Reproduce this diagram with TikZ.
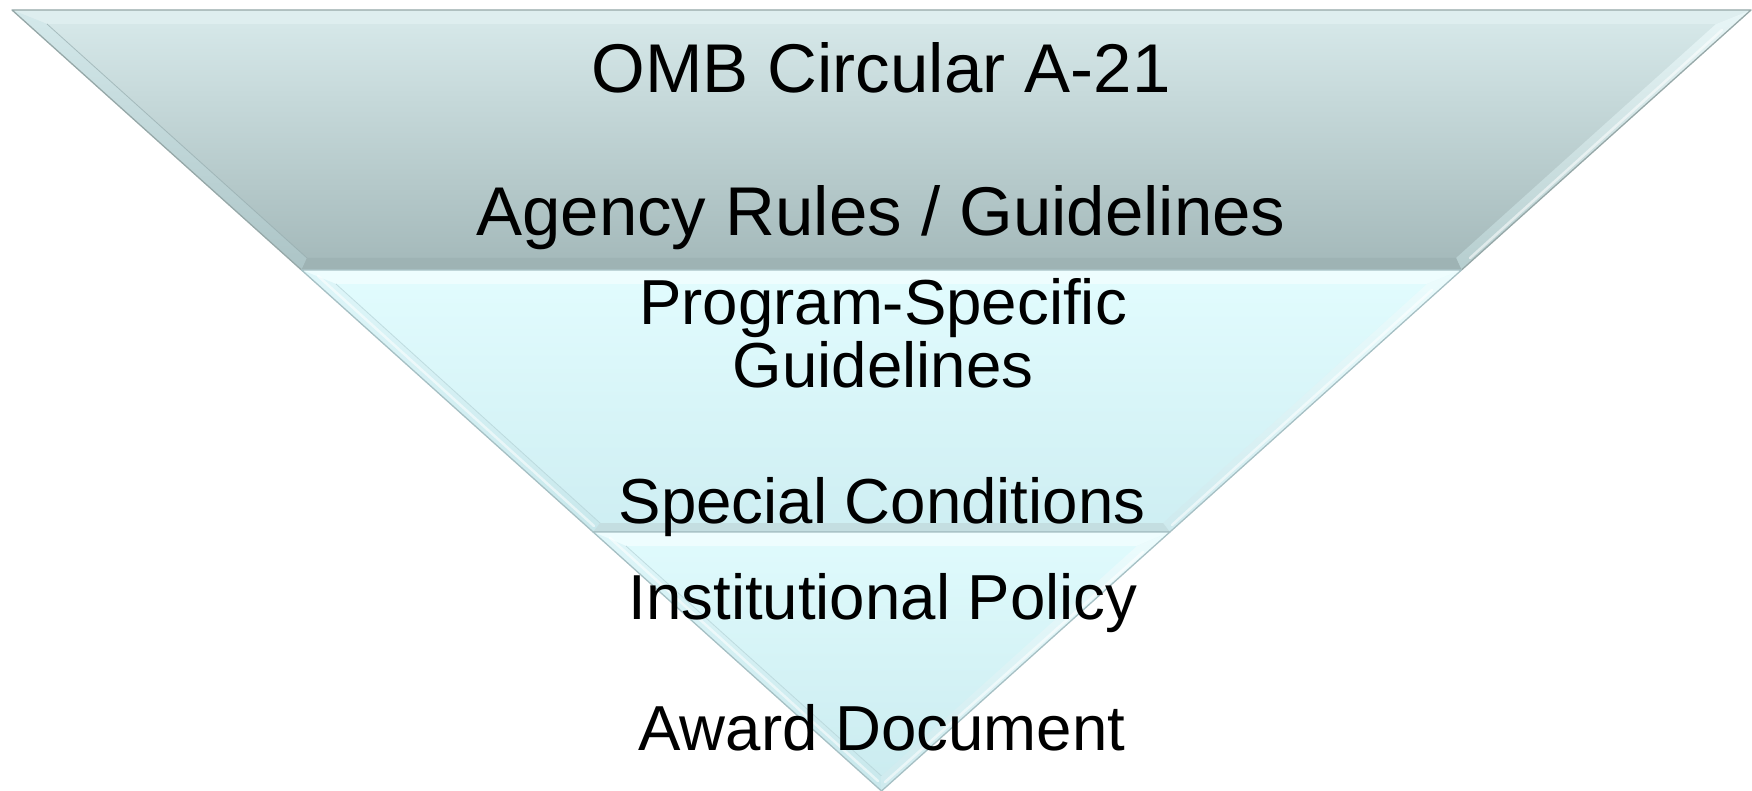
\documentclass[tikz,border=0pt]{standalone}
\usepackage{fontspec}
\setmainfont{Liberation Sans}
% band colours
\definecolor{tbTop}{RGB}{216,234,235}
\definecolor{tbBot}{RGB}{163,184,185}
\definecolor{tbLip}{RGB}{222,238,239}
\definecolor{tbLeftA}{RGB}{212,233,235}
\definecolor{tbLeftB}{RGB}{172,196,198}
\definecolor{tbRightA}{RGB}{232,246,247}
\definecolor{tbRightB}{RGB}{182,206,207}
\definecolor{tbFoot}{RGB}{158,179,180}
\definecolor{tbRim}{RGB}{150,168,168}
\definecolor{tbCrease}{RGB}{150,172,174}
\definecolor{cyTop}{RGB}{226,252,254}
\definecolor{cyBot}{RGB}{206,238,242}
\definecolor{cyLip}{RGB}{238,253,254}
\definecolor{cyLeftA}{RGB}{222,246,249}
\definecolor{cyLeftB}{RGB}{200,232,236}
\definecolor{cyRightA}{RGB}{236,252,253}
\definecolor{cyRightB}{RGB}{206,234,238}
\definecolor{cyFoot}{RGB}{196,222,225}
\definecolor{cyRim}{RGB}{166,192,196}
\definecolor{cyCrease}{RGB}{180,210,214}
\definecolor{lowTop}{RGB}{224,251,253}
\definecolor{lowBot}{RGB}{202,235,239}
\begin{document}
\begin{tikzpicture}[x=1pt,y=-1pt,
  lbl/.style={inner sep=0pt, anchor=base, text=black},
  big/.style={lbl, font=\fontsize{69}{80}\selectfont},
  med/.style={lbl, font=\fontsize{63.6}{72}\selectfont},
  rim/.style={draw=#1, line width=1.3pt, line join=round},
  crease/.style={draw=#1, line width=0.8pt, opacity=0.7},
  streak/.style={draw=white, line width=2.5pt, opacity=0.55, line cap=round}]
\useasboundingbox (0,0) rectangle (1752,791);

% ---------- top band ----------
\shade[top color=tbTop, bottom color=tbBot]
  (12,10) -- (1751,10) -- (1461.5,270) -- (301.5,270) -- cycle;
\fill[tbLip] (12,10) -- (1751,10) -- (1716,24) -- (47,24) -- cycle;
\shade[top color=tbLeftA, bottom color=tbLeftB]
  (12,10) -- (47,24) -- (307,258) -- (301.5,270) -- cycle;
\draw[crease=tbCrease] (47,24) -- (307,258);
\shade[top color=tbRightA, bottom color=tbRightB]
  (1751,10) -- (1461.5,270) -- (1456,258) -- (1716,24) -- cycle;
\draw[streak] (1722,30) -- (1470,258);
\fill[tbFoot] (307,258) -- (1456,258) -- (1461.5,270) -- (301.5,270) -- cycle;
\draw[rim=tbRim] (12,10) -- (1751,10) -- (1461.5,270) -- (301.5,270) -- cycle;

% ---------- middle band ----------
\shade[top color=cyTop, bottom color=cyBot]
  (301.5,270) -- (1461.5,270) -- (1169.9,532) -- (593.1,532) -- cycle;
\fill[cyLip] (301.5,270) -- (1461.5,270) -- (1427,284) -- (336,284) -- cycle;
\shade[top color=cyLeftA, bottom color=cyLeftB]
  (301.5,270) -- (336,284) -- (600,523) -- (593.1,532) -- cycle;
\draw[streak] (318,276) -- (594,526);
\draw[crease=cyCrease] (336,284) -- (600,523);
\shade[top color=cyRightA, bottom color=cyRightB]
  (1461.5,270) -- (1169.9,532) -- (1163,523) -- (1427,284) -- cycle;
\draw[streak] (1432,290) -- (1172,525);
\fill[cyFoot] (600,523) -- (1163,523) -- (1169.9,532) -- (593.1,532) -- cycle;
\draw[rim=cyRim] (301.5,270) -- (1461.5,270) -- (1169.9,532) -- (593.1,532) -- cycle;

% ---------- bottom band ----------
\shade[top color=lowTop, bottom color=lowBot]
  (593.1,532) -- (1169.9,532) -- (881.5,791) -- cycle;
\fill[cyLip] (593.1,532) -- (1169.9,532) -- (1137,546) -- (626,546) -- cycle;
\shade[top color=cyLeftA, bottom color=cyLeftB]
  (593.1,532) -- (626,546) -- (881.5,776) -- (881.5,791) -- cycle;
\draw[streak] (610,538) -- (878,781);
\draw[crease=cyCrease] (626,546) -- (881.5,776);
\shade[top color=cyRightA, bottom color=cyRightB]
  (1169.9,532) -- (881.5,791) -- (881.5,776) -- (1137,546) -- cycle;
\draw[streak] (1143,552) -- (885,782);
\draw[rim=cyRim] (593.1,532) -- (1169.9,532) -- (881.5,791) -- cycle;

% ---------- labels ----------
\node[big] (omb) at (881,93) {OMB Circular A-21};
\node[big] (agency) at (881,236) {Agency Rules / Guidelines};
\node[med] (prog) at (883,324) {Program-Specific};
\node[med] (guid) at (883,387) {Guidelines};
\node[med] (spec) at (882,523) {Special Conditions};
\node[med] (inst) at (883,619) {Institutional Policy};
\node[med] (award) at (882,750) {Award Document};
\end{tikzpicture}
\end{document}
